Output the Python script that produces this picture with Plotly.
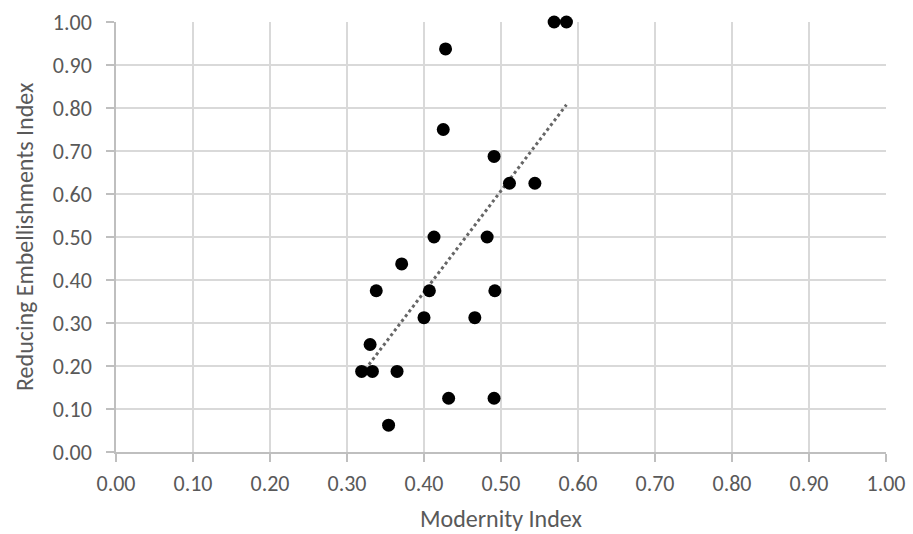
import numpy as np
import plotly.graph_objects as go

modernity = [0.569, 0.585, 0.428, 0.425, 0.491, 0.511, 0.544, 0.413, 0.482, 0.371, 0.338,
             0.407, 0.492, 0.400, 0.466, 0.330, 0.319, 0.333, 0.365, 0.432, 0.491, 0.354]
embellish = [1.0, 1.0, 0.9375, 0.75, 0.6875, 0.625, 0.625, 0.5, 0.5, 0.4375, 0.375,
             0.375, 0.375, 0.3125, 0.3125, 0.25, 0.1875, 0.1875, 0.1875, 0.125, 0.125, 0.0625]
tick_vals = [i / 10 for i in range(11)]
tick_text = [f"{v:.2f}" for v in tick_vals]
x_title = "Modernity Index"
y_title = "Reducing Embellishments Index"

slope, intercept = np.polyfit(modernity, embellish, 1)
tx = np.array([min(modernity), max(modernity)])
ty = slope * tx + intercept

FONT = "Carlito, Calibri, Lato, sans-serif"
GRAY = "#595959"

fig = go.Figure()
fig.add_trace(go.Scatter(x=tx, y=ty, mode="lines",
                         line=dict(color="#666666", width=3, dash="dot"),
                         showlegend=False, hoverinfo="skip"))
fig.add_trace(go.Scatter(x=modernity, y=embellish, mode="markers",
                         marker=dict(color="black", size=13),
                         cliponaxis=False, showlegend=False))

axis_common = dict(range=[0, 1], tickvals=tick_vals, ticktext=tick_text,
                   showgrid=True, gridcolor="#d9d9d9", gridwidth=1.5,
                   zeroline=False, showline=True, linecolor="#bfbfbf", linewidth=1.5,
                   ticks="outside", ticklen=8, tickcolor="#bfbfbf", tickwidth=1.5,
                   tickfont=dict(family=FONT, size=22, color=GRAY),
                   fixedrange=True, automargin=False)

fig.update_layout(
    width=913, height=534,
    margin=dict(l=116, r=27, t=22, b=82),
    paper_bgcolor="white", plot_bgcolor="white",
    xaxis=dict(**axis_common, ticklabelstandoff=3),
    yaxis=dict(**axis_common, ticklabelstandoff=10),
)
fig.add_annotation(text=x_title, xref="paper", yref="paper", x=0.5, y=0,
                   yshift=-66, xanchor="center", yanchor="middle", showarrow=False,
                   font=dict(family=FONT, size=24, color=GRAY))
fig.add_annotation(text=y_title, xref="paper", yref="paper", x=0, y=0.5,
                   xshift=-92, xanchor="center", yanchor="middle", textangle=-90,
                   showarrow=False, font=dict(family=FONT, size=24, color=GRAY))

fig.write_html("out.html", config={"displayModeBar": False},
               post_script="document.body.style.margin='0';")
